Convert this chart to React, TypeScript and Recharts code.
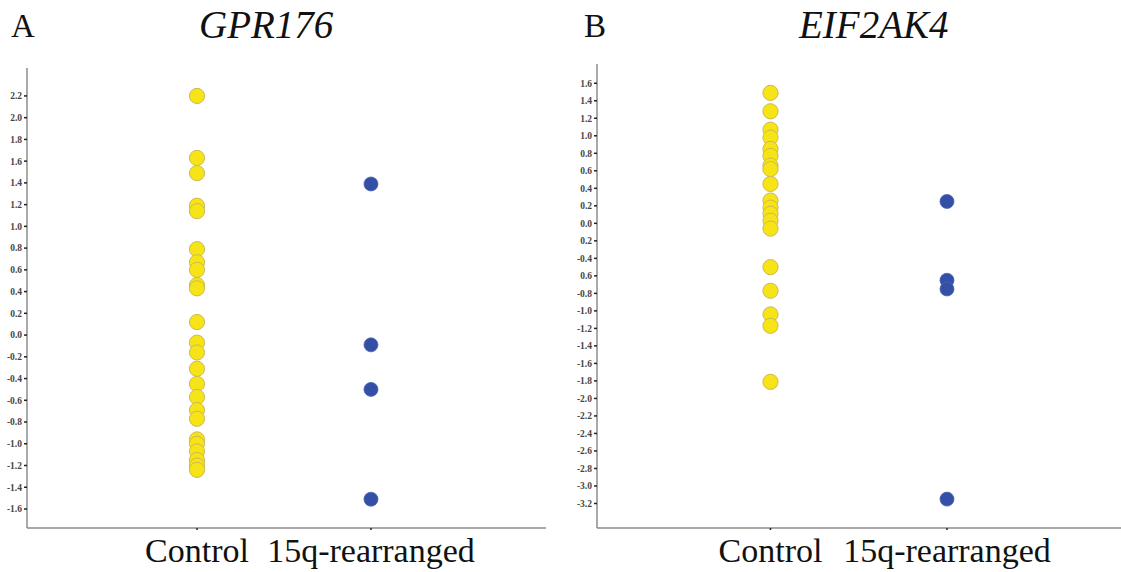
import React from "react";
import { ScatterChart, Scatter, XAxis, YAxis } from "recharts";

const groups = ["Control", "15q-rearranged"];

const gprControl = [
  2.2, 1.63, 1.49, 1.19, 1.14, 0.79, 0.67, 0.6, 0.46, 0.43, 0.12, -0.07, -0.16,
  -0.31, -0.45, -0.57, -0.69, -0.77, -0.96, -1.0, -1.07, -1.15, -1.2, -1.24,
];
const gprRearranged = [1.39, -0.09, -0.5, -1.51];

const eifControl = [
  1.49, 1.28, 1.07, 0.98, 0.85, 0.77, 0.66, 0.62, 0.45, 0.26, 0.18, 0.11, 0.03,
  -0.06, -0.5, -0.77, -1.04, -1.17, -1.81,
];
const eifRearranged = [0.25, -0.65, -0.75, -3.15];

const gprTicks = [
  -1.6, -1.4, -1.2, -1.0, -0.8, -0.6, -0.4, -0.2, 0.0, 0.2, 0.4, 0.6, 0.8, 1.0,
  1.2, 1.4, 1.6, 1.8, 2.0, 2.2,
];
const gprTickLabels = [
  "-1.6", "-1.4", "-1.2", "-1.0", "-0.8", "-0.6", "-0.4", "-0.2", "0.0", "0.2",
  "0.4", "0.6", "0.8", "1.0", "1.2", "1.4", "1.6", "1.8", "2.0", "2.2",
];

const eifTicks = [
  -3.2, -3.0, -2.8, -2.6, -2.4, -2.2, -2.0, -1.8, -1.6, -1.4, -1.2, -1.0, -0.8,
  -0.6, -0.4, -0.2, 0.0, 0.2, 0.4, 0.6, 0.8, 1.0, 1.2, 1.4, 1.6,
];
const eifTickLabels = [
  "-3.2", "-3.0", "-2.8", "-2.6", "-2.4", "-2.2", "-2.0", "-1.8", "-1.6", "-1.4",
  "-1.2", "-1.0", "-0.8", "0.6", "-0.4", "0.2", "0.0", "0.2", "0.4", "0.6",
  "0.8", "1.0", "1.2", "1.4", "1.6",
];

const toPoints = (values: number[], g: number) => values.map((v) => ({ g, v }));

const YellowDot = (props: any) => (
  <circle cx={props.cx} cy={props.cy} r={7.6} fill="#f6e417" stroke="#cdb957" strokeWidth={1} />
);
const BlueDot = (props: any) => (
  <circle cx={props.cx} cy={props.cy} r={7} fill="#3450a6" stroke="#4a62b0" strokeWidth={0.8} />
);

const GroupTick = (props: any) => {
  const { x, y, payload } = props;
  return (
    <text
      x={x}
      y={y + 30}
      textAnchor="middle"
      fontFamily="'Liberation Serif', serif"
      fontSize={34}
      fill="#111"
    >
      {groups[payload.value - 1]}
    </text>
  );
};

const axisColor = "#8c8c8c";

type PanelProps = {
  width: number;
  top: number;
  right: number;
  xDomain: [number, number];
  yDomain: [number, number];
  ticks: number[];
  tickLabels: string[];
  control: number[];
  rearranged: number[];
};

const Panel = ({ width, top, right, xDomain, yDomain, ticks, tickLabels, control, rearranged }: PanelProps) => (
  <ScatterChart width={width} height={572} margin={{ top, right, bottom: 0, left: 0 }}>
    <XAxis
      type="number"
      dataKey="g"
      domain={xDomain}
      allowDataOverflow
      ticks={[1, 2]}
      height={44}
      tick={<GroupTick />}
      tickSize={2}
      stroke={axisColor}
      strokeWidth={1.5}
      tickLine={{ stroke: "#222" }}
    />
    <YAxis
      type="number"
      dataKey="v"
      domain={yDomain}
      allowDataOverflow
      ticks={ticks}
      interval={0}
      width={27}
      tickSize={3}
      tickMargin={2}
      stroke={axisColor}
      strokeWidth={1.5}
      tickLine={{ stroke: "#222" }}
      tickFormatter={(v: number) => tickLabels[ticks.indexOf(v)] ?? String(v)}
      tick={{ fontSize: 9.5, fontWeight: "bold", fill: "#444", fontFamily: "'Liberation Serif', serif" }}
    />
    <Scatter data={toPoints(control, 1)} shape={<YellowDot />} isAnimationActive={false} />
    <Scatter data={toPoints(rearranged, 2)} shape={<BlueDot />} isAnimationActive={false} />
  </ScatterChart>
);

const label = (text: string, left: number, italic: boolean, size: number): React.ReactNode => (
  <div
    style={{
      position: "absolute",
      left,
      top: 40 - size * 0.9,
      fontFamily: "'Liberation Serif', serif",
      fontStyle: italic ? "italic" : "normal",
      fontSize: size,
      lineHeight: `${size}px`,
      color: "#111",
      whiteSpace: "nowrap",
    }}
  >
    {text}
  </div>
);

export default function App() {
  return (
    <div style={{ position: "absolute", left: 0, top: 0, width: 1121, height: 572, background: "#fff", overflow: "hidden" }}>
      <div style={{ position: "absolute", left: 0, top: 0 }}>
        <Panel
          width={560}
          top={68}
          right={14}
          xDomain={[0.023, 3.006]}
          yDomain={[-1.775, 2.457]}
          ticks={gprTicks}
          tickLabels={gprTickLabels}
          control={gprControl}
          rearranged={gprRearranged}
        />
      </div>
      <div style={{ position: "absolute", left: 570, top: 0 }}>
        <Panel
          width={551}
          top={64}
          right={0}
          xDomain={[0.017, 2.986]}
          yDomain={[-3.48, 1.82]}
          ticks={eifTicks}
          tickLabels={eifTickLabels}
          control={eifControl}
          rearranged={eifRearranged}
        />
      </div>
      {label("A", 11, false, 33)}
      {label("GPR176", 199, true, 39)}
      {label("B", 584, false, 33)}
      {label("EIF2AK4", 799, true, 39)}
    </div>
  );
}
